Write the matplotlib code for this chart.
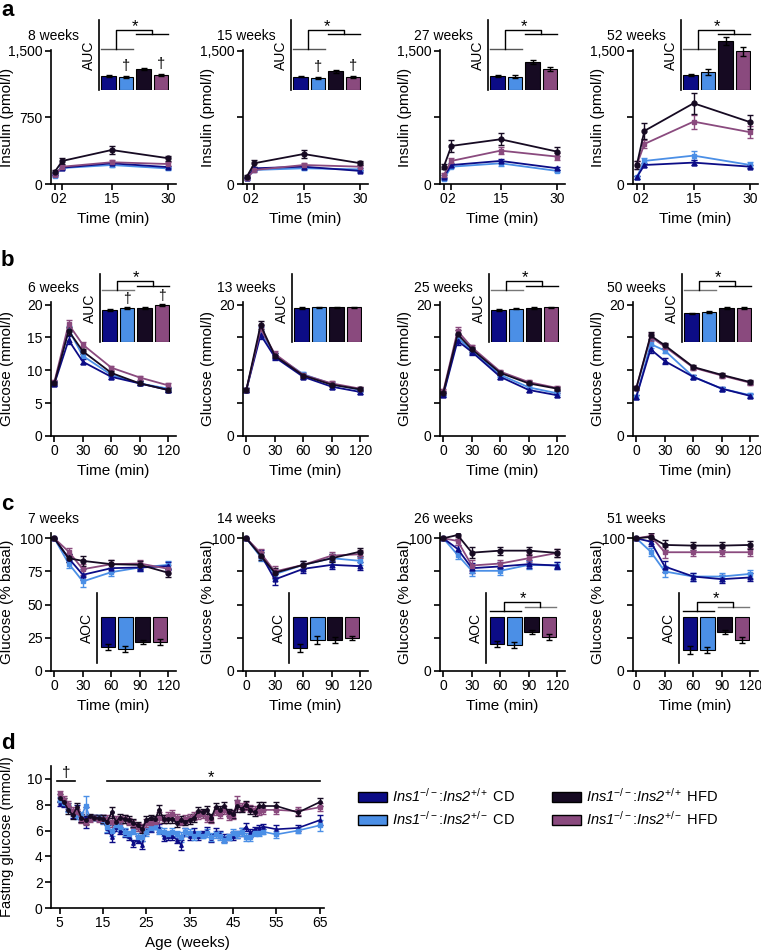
import matplotlib.pyplot as plt
from matplotlib.patches import Patch

plt.rcParams['font.family'] = ['Liberation Sans', 'DejaVu Sans']
plt.rcParams['mathtext.fontset'] = 'custom'
plt.rcParams['mathtext.rm'] = 'Liberation Sans'
plt.rcParams['mathtext.it'] = 'Liberation Sans:italic'
plt.rcParams['mathtext.sf'] = 'Liberation Sans:italic'
plt.rcParams['mathtext.bf'] = 'Liberation Sans:bold'
plt.rcParams['font.size'] = 10

# group order: CD +/+, CD +/-, HFD +/+, HFD +/-
colors = ['#0c0c86', '#4b8fe6', '#160a22', '#8a4a7e']
markers = ['^', 's', 'o', 's']
group_labels = [r'$\mathsf{Ins1}^{-/-}$:$\mathsf{Ins2}^{+/+}$ CD',
                r'$\mathsf{Ins1}^{-/-}$:$\mathsf{Ins2}^{+/-}$ CD',
                r'$\mathsf{Ins1}^{-/-}$:$\mathsf{Ins2}^{+/+}$ HFD',
                r'$\mathsf{Ins1}^{-/-}$:$\mathsf{Ins2}^{+/-}$ HFD']

# ---- a: insulin (pmol/l) ----
ins_time = [0, 2, 15, 30]
ins_ages = ['8 weeks', '15 weeks', '27 weeks', '52 weeks']
ins_cd_pp = [[120, 184, 233, 190], [72, 177, 195, 147], [82, 214, 260, 177], [75, 214, 241, 195]]
ins_cd_pm = [[95, 180, 214, 175], [65, 158, 177, 165], [56, 195, 233, 147], [75, 260, 320, 214]]
ins_hfd_pp = [[139, 260, 383, 290], [82, 234, 338, 234], [195, 429, 504, 364], [214, 598, 910, 696]]
ins_hfd_pm = [[100, 195, 245, 225], [62, 158, 214, 195], [101, 260, 376, 308], [214, 451, 703, 583]]
ins_err_cd_pp = [[15, 15, 20, 15], [10, 15, 15, 15], [15, 20, 25, 15], [15, 20, 25, 20]]
ins_err_cd_pm = [[15, 15, 20, 15], [10, 15, 15, 15], [15, 20, 25, 15], [15, 30, 50, 30]]
ins_err_hfd_pp = [[20, 30, 50, 30], [15, 40, 40, 20], [30, 70, 70, 50], [40, 90, 120, 80]]
ins_err_hfd_pm = [[15, 20, 25, 20], [10, 20, 20, 15], [20, 30, 40, 40], [40, 50, 80, 70]]
auc_ins = [[20, 19, 30, 21], [19, 17, 27, 19], [20, 19, 40, 30], [21, 26, 70, 55]]
auc_ins_err = [[1.5, 1.5, 2, 1.5], [1, 1.5, 2, 1.5], [1.5, 2, 3, 3], [1.5, 4, 6, 6]]

# ---- b: glucose tolerance (mmol/l) ----
gtt_time = [0, 15, 30, 60, 90, 120]
gtt_ages = ['6 weeks', '13 weeks', '25 weeks', '50 weeks']
gtt_cd_pp = [[7.9, 14.6, 11.3, 9.0, 8.0, 7.0], [7.0, 15.4, 12.0, 9.0, 7.5, 6.7],
             [6.3, 14.5, 12.8, 9.0, 7.0, 6.2], [6.0, 13.2, 11.4, 9.0, 7.2, 6.1]]
gtt_cd_pm = [[8.0, 16.2, 12.2, 9.3, 8.0, 7.2], [7.0, 16.0, 12.3, 9.4, 7.9, 7.0],
             [6.4, 15.0, 13.0, 9.3, 7.4, 6.5], [5.9, 14.0, 13.0, 9.0, 7.2, 6.2]]
gtt_hfd_pp = [[8.0, 16.0, 12.9, 9.6, 8.0, 7.0], [7.0, 16.9, 12.2, 9.2, 7.8, 7.1],
              [6.6, 15.5, 13.2, 9.6, 8.0, 7.2], [7.3, 15.3, 13.8, 10.5, 9.3, 8.2]]
gtt_hfd_pm = [[8.2, 17.0, 13.9, 10.4, 8.9, 7.7], [7.0, 16.3, 12.5, 9.3, 8.0, 7.2],
              [6.8, 16.0, 13.5, 9.8, 8.2, 7.3], [7.3, 15.1, 13.6, 10.4, 9.2, 8.1]]
gtt_err = [0.3, 0.6, 0.4, 0.3, 0.3, 0.3]
auc_gtt = [[47, 50, 50, 54], [50, 51, 51, 51], [47, 49, 50, 51], [42, 44, 50, 50]]
auc_gtt_err = [[1, 1.5, 1, 1.5], [1, 1, 1, 1], [1, 1, 1.5, 1], [1, 1.5, 1.5, 1.5]]

# ---- c: insulin tolerance (% basal) ----
itt_time = [0, 15, 30, 60, 90, 120]
itt_ages = ['7 weeks', '14 weeks', '26 weeks', '51 weeks']
itt_cd_pp = [[100, 85, 72.5, 77.5, 78, 79], [100, 88, 69, 77, 80, 79],
             [100, 92, 77.5, 78.8, 80.5, 79.5], [100, 97.5, 78.7, 71.2, 69.2, 70.5]]
itt_cd_pm = [[100, 81, 67.5, 74.5, 78, 80], [100, 86, 73, 80, 85, 83],
             [100, 87.5, 75.5, 75.5, 80, 79.5], [100, 90, 75, 71.2, 71.2, 73.2]]
itt_hfd_pp = [[100, 85, 83, 80.5, 80, 74], [100, 87, 74, 80, 85, 90],
              [100, 102.5, 89.2, 90.7, 90.7, 89], [100, 101, 95, 94.5, 94.5, 95]]
itt_hfd_pm = [[100, 90, 76.7, 80.5, 81, 77], [100, 89, 75, 80, 87, 88],
              [100, 98, 79.5, 81, 85, 89], [100, 101.7, 89.5, 89.5, 89.5, 89.5]]
itt_err = [0.5, 3, 4, 3, 3, 3]
aoc_itt = [[30, 32, 25, 25], [31, 23, 23, 21], [27, 28, 15, 20], [33, 33, 15, 23]]
aoc_itt_err = [[3, 3, 2, 3], [4, 4, 3, 2], [3, 3, 2, 3], [4, 3, 2, 3]]

# ---- d: fasting glucose (mmol/l) ----
fg_weeks = [5, 6, 7, 8, 9, 10, 11, 12, 13, 14, 15, 16, 17, 18, 19, 20, 21, 22, 23, 24,
            25, 26, 27, 28, 29, 30, 31, 32, 33, 34, 35, 36, 37, 38, 39, 40, 41, 42, 43, 44,
            45, 46, 47, 48, 49, 50, 51, 52, 55, 60, 65]
fg_cd_pp = [8.1, 8.0, 7.8, 7.3, 7.7, 7.0, 7.0, 7.0, 7.0, 7.0,
            6.9, 6.2, 5.5, 6.3, 6.0, 5.8, 5.6, 5.0, 5.3, 4.9,
            6.0, 6.1, 6.3, 6.2, 5.5, 5.6, 5.6, 5.3, 4.9, 5.9,
            5.6, 5.9, 5.6, 5.8, 6.0, 5.4, 5.9, 5.7, 5.4, 5.5,
            5.6, 5.7, 5.9, 6.3, 5.8, 6.1, 6.2, 6.3, 6.1, 6.2, 6.8]
fg_cd_pm = [8.4, 8.1, 7.7, 7.4, 7.2, 7.1, 7.9, 7.0, 7.0, 7.0,
            6.8, 6.3, 6.0, 6.4, 6.3, 5.9, 5.7, 6.0, 5.5, 5.5,
            5.9, 6.2, 6.3, 6.0, 5.9, 5.7, 5.9, 5.7, 5.5, 5.9,
            5.8, 5.6, 5.7, 5.6, 5.8, 5.5, 5.7, 5.6, 5.3, 5.5,
            5.8, 5.7, 5.9, 5.5, 5.5, 5.8, 5.8, 5.9, 5.7, 6.0, 6.4]
fg_hfd_pp = [8.5, 8.2, 7.6, 7.2, 7.8, 7.0, 6.8, 7.1, 7.0, 7.0,
             6.9, 6.7, 7.4, 6.7, 7.0, 6.9, 6.8, 6.6, 6.4, 6.1,
             6.8, 7.0, 6.9, 7.6, 6.9, 6.9, 6.9, 6.6, 6.8, 6.7,
             6.8, 7.0, 7.5, 7.4, 7.6, 7.0, 7.8, 7.6, 7.9, 7.4,
             7.3, 7.9, 7.7, 8.0, 7.6, 7.4, 7.9, 7.9, 7.9, 7.4, 8.2]
fg_hfd_pm = [8.8, 8.4, 8.0, 7.5, 7.4, 6.9, 6.7, 6.9, 7.0, 6.9,
             6.9, 6.9, 6.7, 6.8, 6.8, 6.9, 6.7, 6.5, 6.3, 6.2,
             6.6, 6.6, 6.7, 7.0, 6.9, 7.1, 7.3, 7.0, 6.7, 6.9,
             7.0, 7.1, 7.2, 7.3, 7.0, 6.9, 7.5, 7.3, 7.6, 7.1,
             7.2, 8.2, 7.8, 7.9, 7.7, 7.6, 7.5, 7.6, 7.6, 7.5, 7.8]
fg_err_cd = [0.2, 0.2, 0.3, 0.3, 0.3, 0.3, 0.8, 0.2, 0.2, 0.2,
             0.3, 0.4, 0.4, 0.3, 0.3, 0.3, 0.3, 0.3, 0.3, 0.3,
             0.3, 0.2, 0.2, 0.3, 0.3, 0.3, 0.3, 0.3, 0.4, 0.3,
             0.3, 0.3, 0.3, 0.2, 0.3, 0.3, 0.3, 0.3, 0.3, 0.2,
             0.3, 0.3, 0.3, 0.3, 0.3, 0.2, 0.2, 0.2, 0.3, 0.2, 0.4]
fg_err_hfd = [0.3, 0.3, 0.3, 0.3, 0.3, 0.3, 0.3, 0.2, 0.2, 0.2,
              0.3, 0.3, 0.4, 0.3, 0.3, 0.3, 0.3, 0.3, 0.3, 0.3,
              0.3, 0.2, 0.2, 0.4, 0.3, 0.3, 0.3, 0.3, 0.3, 0.3,
              0.3, 0.3, 0.3, 0.3, 0.3, 0.3, 0.3, 0.3, 0.3, 0.3,
              0.3, 0.5, 0.3, 0.3, 0.3, 0.3, 0.3, 0.3, 0.3, 0.3, 0.3]

W, H = 761, 950
fig = plt.figure(figsize=(W / 100, H / 100), dpi=100)


def box(l, t, w, h):
    return [l / W, 1 - (t + h) / H, w / W, h / H]


def style(ax):
    for s in ['top', 'right']:
        ax.spines[s].set_visible(False)
    for s in ['left', 'bottom']:
        ax.spines[s].set_linewidth(1.2)
    ax.tick_params(direction='out', length=4, width=1.2, labelsize=10, pad=2)


def bracket(ax, h1, h2, top, c1, c2):
    ax.plot([-0.41, 1.41], [h1, h1], color=c1, lw=1, clip_on=False)
    ax.plot([1.59, 3.41], [h2, h2], color=c2, lw=1, clip_on=False)
    ax.plot([0.44, 0.44, 2.5, 2.5], [h1, top, top, h2], color='black', lw=1, clip_on=False)
    ax.annotate('*', xy=(1.5, top), xytext=(0, -1), textcoords='offset pixels',
                ha='center', va='baseline', fontsize=12)


def inset(rect, vals, errs, ylim, xlim, label):
    ai = fig.add_axes(box(*rect))
    ai.bar(range(4), vals, width=0.83, color=colors, edgecolor='black', linewidth=0.8,
           yerr=errs, capsize=2.5, error_kw=dict(elinewidth=1, ecolor='black', capthick=1))
    ai.set_xlim(*xlim)
    ai.set_ylim(*ylim)
    for s in ['top', 'right', 'bottom']:
        ai.spines[s].set_visible(False)
    ai.spines['left'].set_linewidth(1.2)
    ai.set_xticks([])
    ai.set_yticks([])
    ai.set_ylabel(label, fontsize=10, labelpad=2)
    ai.patch.set_alpha(0)
    return ai


def course(ax, x, means, errs, age):
    for g in [1, 0, 3, 2]:
        ax.errorbar(x, means[g], yerr=errs[g], color=colors[g], marker=markers[g], ms=3.5,
                    lw=1.3, capsize=2.5, elinewidth=1, capthick=1)
    style(ax)
    ax.annotate(age, xy=(0, 1), xycoords='axes fraction', xytext=(3, 14),
                textcoords='offset pixels', ha='center', va='center', fontsize=10)


def ylab(ax, text, i, width=125, size=11):
    ax.set_ylabel(text, fontsize=size)
    if i == 0:
        ax.yaxis.set_label_coords((14 - 51) / width, 0.5)
    else:
        ax.yaxis.set_label_coords(-28 / width, 0.5)


lefts = [51, 243, 440, 633]

# row a
for i in range(4):
    ax = fig.add_axes(box(lefts[i], 50, 125, 134))
    means = [ins_cd_pp[i], ins_cd_pm[i], ins_hfd_pp[i], ins_hfd_pm[i]]
    errs = [ins_err_cd_pp[i], ins_err_cd_pm[i], ins_err_hfd_pp[i], ins_err_hfd_pm[i]]
    course(ax, ins_time, means, errs, ins_ages[i])
    ax.set_xlim(-1, 32)
    ax.set_ylim(0, 1510)
    ax.set_xticks(ins_time)
    ax.set_yticks([0, 750, 1500])
    if i == 0:
        ax.set_yticklabels(['0', '750', '1,500'])
    else:
        ax.set_yticklabels(['0', '', '1,500'])
    ylab(ax, 'Insulin (pmol/l)', i)
    ax.set_xlabel('Time (min)', fontsize=11, labelpad=4)
    ai = inset((lefts[i] + 48, 20, 70, 70), auc_ins[i], auc_ins_err[i], (0, 100), (-0.55, 3.45), 'AUC')
    bracket(ai, 58.6, 80, 85.7, '#555555', 'black')
    if i < 2:
        for b in [1, 3]:
            ai.annotate('\u2020', xy=(b, auc_ins[i][b] + auc_ins_err[i][b]), xytext=(0, 3),
                        textcoords='offset pixels', ha='center', va='bottom', fontsize=10.5)

# row b
for i in range(4):
    ax = fig.add_axes(box(lefts[i], 302, 125, 134))
    means = [gtt_cd_pp[i], gtt_cd_pm[i], gtt_hfd_pp[i], gtt_hfd_pm[i]]
    course(ax, gtt_time, means, [gtt_err] * 4, gtt_ages[i])
    ax.set_xlim(-3.5, 128)
    ax.set_ylim(0, 20.4)
    ax.set_xticks([0, 30, 60, 90, 120])
    ax.set_yticks([0, 5, 10, 15, 20])
    if i > 0:
        ax.set_yticklabels(['0', '', '', '', '20'])
    ylab(ax, 'Glucose (mmol/l)', i)
    ax.set_xlabel('Time (min)', fontsize=11, labelpad=4)
    ai = inset((lefts[i] + 49, 274, 70, 68), auc_gtt[i], auc_gtt_err[i], (0, 100), (-0.55, 3.45), 'AUC')
    if i != 1:
        bracket(ai, 76.5, 82.4, 89.7, '#777777', 'black')
    if i == 0:
        for b in [1, 3]:
            ai.annotate('\u2020', xy=(b, auc_gtt[i][b] + auc_gtt_err[i][b]), xytext=(0, 1),
                        textcoords='offset pixels', ha='center', va='bottom', fontsize=10)

# row c
for i in range(4):
    ax = fig.add_axes(box(lefts[i], 533, 125, 138))
    means = [itt_cd_pp[i], itt_cd_pm[i], itt_hfd_pp[i], itt_hfd_pm[i]]
    course(ax, itt_time, means, [itt_err] * 4, itt_ages[i])
    ax.set_xlim(-3.5, 128)
    ax.set_ylim(0, 104)
    ax.set_xticks([0, 30, 60, 90, 120])
    ax.set_yticks([0, 25, 50, 75, 100])
    if i > 0:
        ax.set_yticklabels(['0', '', '', '', '100'])
    ylab(ax, 'Glucose (% basal)', i)
    ax.set_xlabel('Time (min)', fontsize=11, labelpad=4)
    ai = inset((lefts[i] + 46, 593, 71, 70), aoc_itt[i], aoc_itt_err[i], (46, -24), (-0.62, 3.45), 'AOC')
    if i >= 2:
        bracket(ai, -6, -10.3, -15, 'black', '#777777')

# row d
ax = fig.add_axes(box(51, 766, 273, 142))
fg_means = [fg_cd_pp, fg_cd_pm, fg_hfd_pp, fg_hfd_pm]
fg_errs = [fg_err_cd, fg_err_cd, fg_err_hfd, fg_err_hfd]
for g in [0, 1, 3, 2]:
    ax.errorbar(fg_weeks, fg_means[g], yerr=fg_errs[g], color=colors[g], marker=markers[g], ms=2.5,
                lw=1.2, capsize=2, elinewidth=1, capthick=1)
style(ax)
ax.set_xlim(3, 66)
ax.set_ylim(0, 11)
ax.set_xticks([5, 15, 25, 35, 45, 55, 65])
ax.set_yticks([0, 2, 4, 6, 8, 10])
ylab(ax, 'Fasting glucose (mmol/l)', 0, 273, 10.5)
ax.set_xlabel('Age (weeks)', fontsize=11, labelpad=4)
ax.plot([4.4, 8.6], [9.8, 9.8], color='black', lw=1.2)
ax.text(6.5, 9.95, '\u2020', ha='center', va='bottom', fontsize=11)
ax.plot([15.9, 65.1], [9.8, 9.8], color='black', lw=1.2)
ax.annotate('*', xy=(40, 9.8), xytext=(0, -1), textcoords='offset pixels',
            ha='center', va='baseline', fontsize=12)

handles = [Patch(facecolor=colors[g], edgecolor='black', linewidth=1) for g in range(4)]
fig.legend(handles[:2], group_labels[:2], loc='upper left', bbox_to_anchor=(358 / W, 1 - 787 / H),
           frameon=False, fontsize=10.5, handlelength=2.0, handleheight=0.7, handletextpad=0.3,
           labelspacing=0.35, borderpad=0, borderaxespad=0)
fig.legend(handles[2:], group_labels[2:], loc='upper left', bbox_to_anchor=(552 / W, 1 - 787 / H),
           frameon=False, fontsize=10.5, handlelength=2.0, handleheight=0.7, handletextpad=0.3,
           labelspacing=0.35, borderpad=0, borderaxespad=0)

for lab, y in [('a', 16), ('b', 266), ('c', 510), ('d', 749)]:
    fig.text(1 / W, 1 - y / H, lab, fontsize=16, fontweight='bold', va='baseline', ha='left')

fig.savefig('out.png', dpi=100)
